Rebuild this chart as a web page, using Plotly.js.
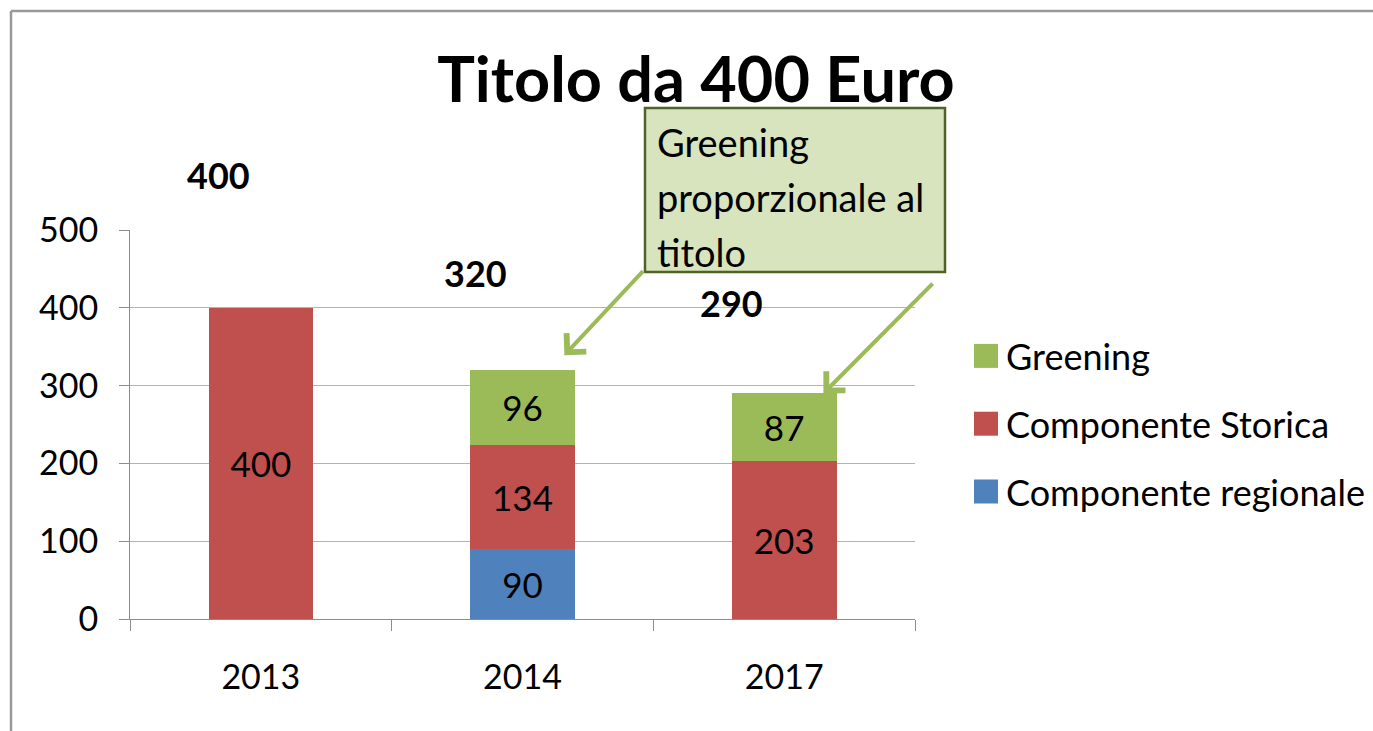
<!DOCTYPE html>
<html><head><meta charset="utf-8">
<script src="https://cdn.plot.ly/plotly-3.0.1.min.js"></script>
<style>html,body{margin:0;padding:0;background:#fff}#chart{width:1373px;height:731px}</style>
</head><body><div id="chart"></div>
<script>
// ---- data ----
const years = ['2013', '2014', '2017'];
const regionale = [0, 90, 0];
const storica = [400, 134, 203];
const greening = [0, 96, 87];
const totals = [400, 320, 290];
const seriesNames = ['Componente regionale', 'Componente Storica', 'Greening'];
const seriesColors = ['#4f81bd', '#c0504d', '#9bbb59'];
const calloutLines = ['Greening', 'proporzionale al', 'titolo'];
const yTicks = [0, 100, 200, 300, 400, 500];

// ---- layout helpers (pixel -> paper) ----
const W = 1373, H = 731, L = 130, R = 915, T = 230, B = 619;
const YMAX = 500;
const px = v => (v - L) / (R - L);
const py = v => (B - v) / (B - T);
const FONT = 'Lato, "Open Sans", sans-serif';

const series = [regionale, storica, greening];
const traces = series.map((vals, i) => ({
  type: 'bar', x: years, y: vals, name: seriesNames[i],
  marker: {color: seriesColors[i], line: {width: 0}},
  text: vals.map(v => v > 0 ? String(v) : ''),
  textposition: 'inside', insidetextanchor: 'middle', textangle: 0,
  textfont: {family: FONT, size: 35, color: '#000'},
  constraintext: 'none', hoverinfo: 'skip',
  legendgroup: 'g' + i, legendrank: 3 - i
}));

// total label placement (category offset, value height)
const totalLabelDx = [-0.16, -0.18, -0.20];
const totalLabelY = [571, 445, 406];

const annotations = totals.map((t, i) => ({
  x: i + totalLabelDx[i], y: totalLabelY[i] / YMAX, xref: 'x', yref: 'paper',
  xanchor: 'center', yanchor: 'middle',
  text: '<b>' + t + '</b>', showarrow: false,
  font: {family: FONT, size: 36, color: '#000'}
}));

// callout text lines
const lineY = [142, 197, 252];
calloutLines.forEach((t, i) => annotations.push({
  x: px(655), y: py(lineY[i]), xref: 'paper', yref: 'paper',
  xanchor: 'left', yanchor: 'middle', text: t, showarrow: false,
  font: {family: FONT, size: 38, color: '#000'}
}));

// arrows to the greening segments
annotations.push({
  x: 1.16, y: 339, xref: 'x', yref: 'y', ax: 1.466, ay: 449, axref: 'x', ayref: 'y',
  text: '', showarrow: true, arrowhead: 4, arrowsize: 1.3, arrowwidth: 4, arrowcolor: '#9bbb59', standoff: 0
});
annotations.push({
  x: 2.15, y: 290, xref: 'x', yref: 'y', ax: 2.573, ay: 433, axref: 'x', ayref: 'y',
  text: '', showarrow: true, arrowhead: 4, arrowsize: 1.3, arrowwidth: 4, arrowcolor: '#9bbb59', standoff: 0
});

const shapes = [
  {type: 'rect', xref: 'paper', yref: 'paper', x0: px(645), x1: px(945), y0: py(272), y1: py(108),
   fillcolor: '#d7e4bd', line: {color: '#4f6228', width: 2.5}, layer: 'below'},
  {type: 'line', xref: 'paper', yref: 'paper', x0: px(11), x1: px(W + 5), y0: py(11), y1: py(11),
   line: {color: '#999999', width: 2.5}},
  {type: 'line', xref: 'paper', yref: 'paper', x0: px(11), x1: px(11), y0: py(11), y1: py(H + 5),
   line: {color: '#999999', width: 2.5}}
];

const layout = {
  width: W, height: H, autosize: false,
  margin: {l: L, r: W - R, t: T, b: H - B, pad: 0},
  paper_bgcolor: '#fff', plot_bgcolor: '#fff',
  title: {text: '<b>Titolo da 400 Euro</b>', font: {family: FONT, size: 63, color: '#000'},
          x: 696 / W, xanchor: 'center', y: 1 - 80 / H, yanchor: 'middle', xref: 'container', yref: 'container'},
  barmode: 'stack', bargap: 0.6,
  showlegend: true,
  legend: {xref: 'container', yref: 'container', x: 966 / W, xanchor: 'left', y: 1 - 326 / H, yanchor: 'top',
           traceorder: 'grouped', tracegroupgap: 18,
           font: {family: FONT, size: 36, color: '#000'}, bgcolor: 'rgba(0,0,0,0)'},
  xaxis: {type: 'category', range: [-0.5, 2.5], autorange: false, showline: true, linecolor: '#8c8c8c', linewidth: 1,
          ticks: 'outside', tickson: 'boundaries', ticklen: 11, tickcolor: '#8c8c8c',
          tickfont: {family: FONT, size: 34, color: '#000'}, ticklabelstandoff: 28,
          showgrid: false, zeroline: false, fixedrange: true, automargin: false},
  yaxis: {range: [0, YMAX], autorange: false, tickvals: yTicks, showgrid: true, gridcolor: '#b3b3b3', gridwidth: 1,
          showline: true, linecolor: '#8c8c8c', linewidth: 1, ticks: 'outside', ticklen: 10, tickcolor: '#8c8c8c',
          tickfont: {family: FONT, size: 34, color: '#000'}, ticklabelstandoff: 14,
          zeroline: false, fixedrange: true, automargin: false},
  annotations: annotations, shapes: shapes
};

Plotly.newPlot('chart', traces, layout, {displayModeBar: false, staticPlot: true}).then(gd => {
  // enlarge legend swatches to match the reference's larger squares
  gd.querySelectorAll('.legend .legendpoints path').forEach(p => {
    const t = p.getAttribute('transform') || '';
    p.setAttribute('transform', t + ' scale(2)');
  });
});
</script></body></html>
